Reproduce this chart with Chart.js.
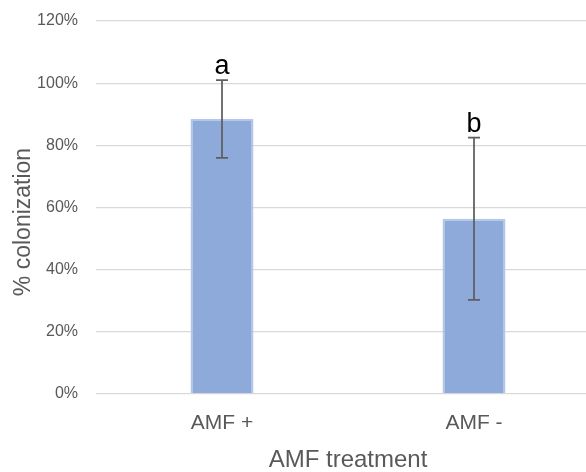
<!DOCTYPE html>
<html>
<head>
<meta charset="utf-8">
<script src="https://cdn.jsdelivr.net/npm/chart.js@4/dist/chart.umd.min.js"></script>
<style>
  html, body { margin: 0; padding: 0; background: #fff; overflow: hidden; }
  #wrap { position: relative; width: 600px; height: 472px; }
</style>
</head>
<body>
<div id="wrap"><canvas id="chart"></canvas></div>
<script>
// data
const categories = ['AMF +', 'AMF -'];
const colonization = [88.5, 56.4];   // mean % colonization
const errorSize = [12.5, 26.1];      // +/- error bar
const letters = ['a', 'b'];          // significance groups
const yTicks = [0, 20, 40, 60, 80, 100, 120];
const yTitle = '% colonization';

const textGray = '#595959';
const fontFamily = '"Liberation Sans", Arial, sans-serif';

// draws error bars, the letters above them and the y axis title
const errorBarPlugin = {
  id: 'errorBars',
  afterDatasetsDraw(chart) {
    const ctx = chart.ctx;
    const yScale = chart.scales.y;
    const meta = chart.getDatasetMeta(0);
    ctx.save();
    meta.data.forEach((bar, i) => {
      const x = bar.x;
      const top = yScale.getPixelForValue(colonization[i] + errorSize[i]);
      const bottom = yScale.getPixelForValue(colonization[i] - errorSize[i]);
      ctx.strokeStyle = '#5f5f5f';
      ctx.lineWidth = 1.75;
      ctx.beginPath();
      ctx.moveTo(x, top); ctx.lineTo(x, bottom);
      ctx.moveTo(x - 6, top); ctx.lineTo(x + 6, top);
      ctx.moveTo(x - 6, bottom); ctx.lineTo(x + 6, bottom);
      ctx.stroke();

      ctx.fillStyle = '#000';
      ctx.font = '27px ' + fontFamily;
      ctx.textAlign = 'center';
      ctx.textBaseline = 'alphabetic';
      ctx.fillText(letters[i], x, top - 6);
    });

    // y title is centred on the whole picture height, like the original
    ctx.translate(24, 222);
    ctx.rotate(-Math.PI / 2);
    ctx.fillStyle = textGray;
    ctx.font = '23px ' + fontFamily;
    ctx.textAlign = 'center';
    ctx.textBaseline = 'middle';
    ctx.fillText(yTitle, 0, 0);
    ctx.restore();
  }
};

new Chart(document.getElementById('chart'), {
  type: 'bar',
  data: {
    labels: categories,
    datasets: [{
      data: colonization,
      backgroundColor: '#8eaadb',
      borderColor: '#b4c7e7',
      borderWidth: 2,
      barPercentage: 1,
      categoryPercentage: 0.25
    }]
  },
  options: {
    responsive: true,
    maintainAspectRatio: false,
    animation: false,
    layout: { padding: { top: 21, left: 0, right: 0, bottom: 0 } },
    plugins: {
      legend: { display: false },
      tooltip: { enabled: false }
    },
    scales: {
      x: {
        grid: { display: false },
        border: { display: false },
        ticks: {
          color: textGray,
          padding: 9,
          font: { family: fontFamily, size: 21 }
        },
        title: {
          display: true,
          text: 'AMF treatment',
          color: textGray,
          padding: 0,
          font: { family: fontFamily, size: 24, lineHeight: 1 }
        },
        afterFit(scale) {
          scale.height = 78;
          scale.paddingLeft = 0;
          scale.paddingRight = 0;
        }
      },
      y: {
        min: 0,
        max: 120,
        afterBuildTicks(scale) { scale.ticks = yTicks.map(v => ({ value: v })); },
        grid: { color: '#d9d9d9', lineWidth: 1.3, drawTicks: false },
        border: { display: false },
        ticks: {
          color: textGray,
          padding: 18,
          font: { family: fontFamily, size: 16 },
          callback: v => v + '%'
        },
        afterFit(scale) {
          scale.width = 96;
          scale.paddingTop = 0;
          scale.paddingBottom = 0;
        }
      }
    }
  },
  plugins: [errorBarPlugin]
});
</script>
</body>
</html>
